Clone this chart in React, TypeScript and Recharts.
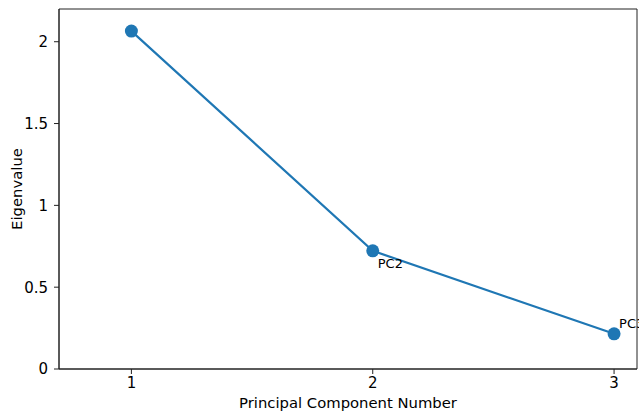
import { LineChart, Line, XAxis, YAxis, ReferenceArea, LabelList } from 'recharts';

// scree plot values
const components = [1, 2, 3];
const eigenvalues = [2.065, 0.722, 0.215];
const pointLabels = ['', 'PC2', 'PC3'];
const xTicks = [1, 2, 3];
const yTicks = [0, 0.5, 1, 1.5, 2];

const data = components.map((c, i) => ({ pc: c, eig: eigenvalues[i], name: pointLabels[i] }));

const BLUE = '#1f77b4';
const FONT = '"DejaVu Sans", sans-serif';

// annotation offsets (PC2 below-right, PC3 above-right)
const renderPointLabel = (props: any) => {
  const { x, y, index } = props;
  const txt = pointLabels[index];
  if (!txt) return null;
  const dy = index === 1 ? 17 : -6;
  return (
    <text x={x + 5} y={y + dy} fontSize={13} fill="#000" fontFamily={FONT}>
      {txt}
    </text>
  );
};

export default function App() {
  return (
    <div style={{ position: 'absolute', left: 0, top: 0, width: 639, height: 415, background: '#fff' }}>
      <LineChart
        width={639}
        height={415}
        data={data}
        margin={{ top: 9, right: 2, left: 0, bottom: 0 }}
        style={{ fontFamily: FONT }}
      >
        <ReferenceArea x1={0.7} x2={3.095} y1={0} y2={2.2} fill="none" stroke="#222" strokeWidth={1} ifOverflow="visible" />
        <XAxis
          dataKey="pc"
          type="number"
          domain={[0.7, 3.095]}
          ticks={xTicks}
          allowDataOverflow
          height={46}
          axisLine={{ stroke: '#222' }}
          tickLine={{ stroke: '#222' }}
          tickSize={5}
          tickMargin={3}
          tick={{ fill: '#000', fontSize: 15 }}
          label={{ value: 'Principal Component Number', position: 'insideBottom', offset: 7, fill: '#000', fontSize: 14.8 }}
        />
        <YAxis
          type="number"
          domain={[0, 2.2]}
          ticks={yTicks}
          allowDataOverflow
          width={59}
          axisLine={{ stroke: '#222' }}
          tickLine={{ stroke: '#222' }}
          tickSize={5}
          tickMargin={6}
          tick={{ fill: '#000', fontSize: 15 }}
          label={{ value: 'Eigenvalue', angle: -90, position: 'insideLeft', offset: 17, fill: '#000', fontSize: 14.8, style: { textAnchor: 'middle' } }}
        />
        <Line
          dataKey="eig"
          stroke={BLUE}
          strokeWidth={2.2}
          dot={{ r: 6.5, fill: BLUE, stroke: BLUE, strokeWidth: 0 }}
          activeDot={false}
          isAnimationActive={false}
        >
          <LabelList dataKey="name" content={renderPointLabel} />
        </Line>
      </LineChart>
    </div>
  );
}
